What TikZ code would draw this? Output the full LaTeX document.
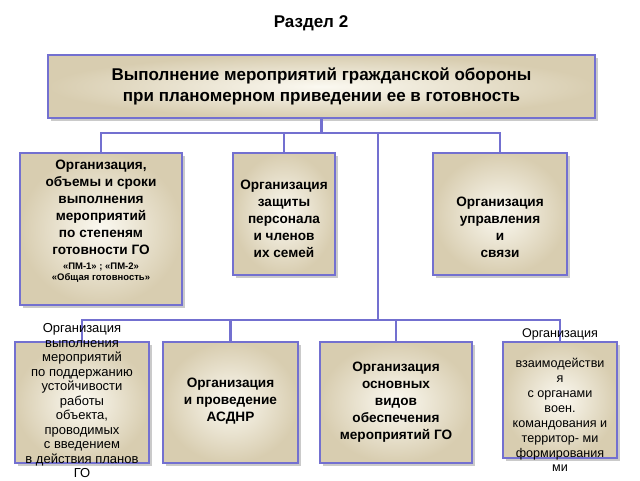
\documentclass[tikz,border=0pt]{standalone}
\usepackage{fontspec}
\setmainfont{Liberation Sans}
\usetikzlibrary{shadows}
\definecolor{bord}{RGB}{115,112,208}
\definecolor{inn}{RGB}{251,249,241}
\definecolor{outr}{RGB}{216,205,176}
\begin{document}
\begin{tikzpicture}[x=1pt,y=-1pt,
  box/.style={draw=bord, line width=2.6pt, inner color=inn, outer color=outr,
    drop shadow={shadow xshift=2.5pt,shadow yshift=-2.5pt,opacity=0.35,fill=black!60},
    inner sep=0pt, outer sep=0pt},
  txtb/.style={align=center, inner sep=0pt, font=\bfseries\fontsize{13.6}{17}\selectfont},
  txtr/.style={align=center, inner sep=0pt, font=\fontsize{13}{14.5}\selectfont},
  conn/.style={draw=bord, line width=2.6pt}]
\useasboundingbox (0,0) rectangle (640,480);

\node[font=\bfseries\fontsize{17}{20}\selectfont] (title) at (311,23) {Раздел 2};

% boxes
\node[box, minimum width=547pt, minimum height=63pt] (main) at (321.5,86.5) {};
\node[box, minimum width=162pt, minimum height=152pt] (b1) at (101,229) {};
\node[box, minimum width=102pt, minimum height=122pt] (b2) at (284,214) {};
\node[box, minimum width=134pt, minimum height=122pt] (b3) at (500,214) {};
\node[box, minimum width=134pt, minimum height=121pt] (b4) at (82,402.5) {};
\node[box, minimum width=135pt, minimum height=121pt] (b5) at (230.5,402.5) {};
\node[box, minimum width=152pt, minimum height=121pt] (b6) at (396,402.5) {};
\node[box, minimum width=114pt, minimum height=116pt] (b7) at (560,400) {};

% connectors
\coordinate (bar1) at (0,133);
\coordinate (bar2) at (0,320);
\coordinate (v) at (378,133);
\draw[conn] (main.south) -- (main.south |- bar1);
\draw[conn] (b1.north) |- (bar1 -| b3.north) -- (b3.north);
\draw[conn] (b2.north) -- (b2.north |- bar1);
\draw[conn] (v) -- (v |- bar2);
\draw[conn] (b4.north) |- (bar2 -| b7.north) -- (b7.north);
\draw[conn] (b5.north) -- (b5.north |- bar2);
\draw[conn] (b6.north) -- (b6.north |- bar2);

% texts
\node[txtb, font=\bfseries\fontsize{17}{21}\selectfont] (t0) at (main.center)
  {Выполнение мероприятий гражданской обороны\\при планомерном приведении ее в готовность};
\node[txtb] (t1) at (101,221)
  {Организация,\\объемы и сроки\\выполнения\\мероприятий\\по степеням\\готовности ГО\\[-2.5pt]
   {\fontsize{9.5}{11}\selectfont «ПМ-1» ; «ПМ-2»}\\[-6pt]
   {\fontsize{9.5}{11}\selectfont «Общая готовность»}};
\node[txtb] (t2) at (284,219)
  {Организация\\защиты\\персонала\\и членов\\их семей};
\node[txtb] (t3) at (500,227)
  {Организация\\управления\\и\\связи};
\node[txtr] (t4) at (82,401)
  {Организация\\выполнения\\мероприятий\\по поддержанию\\устойчивости\\работы\\объекта,\\проводимых\\с введением\\в действия планов\\ГО};
\node[txtb] (t5) at (230.5,401)
  {Организация\\и проведение\\АСДНР};
\node[txtb] (t6) at (396,402)
  {Организация\\основных\\видов\\обеспечения\\мероприятий ГО};
\node[txtr, font=\fontsize{12.6}{14.9}\selectfont] (t7) at (560,400.5)
  {Организация\\[14.9pt]взаимодействи\\я\\с органами\\воен.\\командования и\\территор- ми\\формирования\\ми};
\end{tikzpicture}
\end{document}
